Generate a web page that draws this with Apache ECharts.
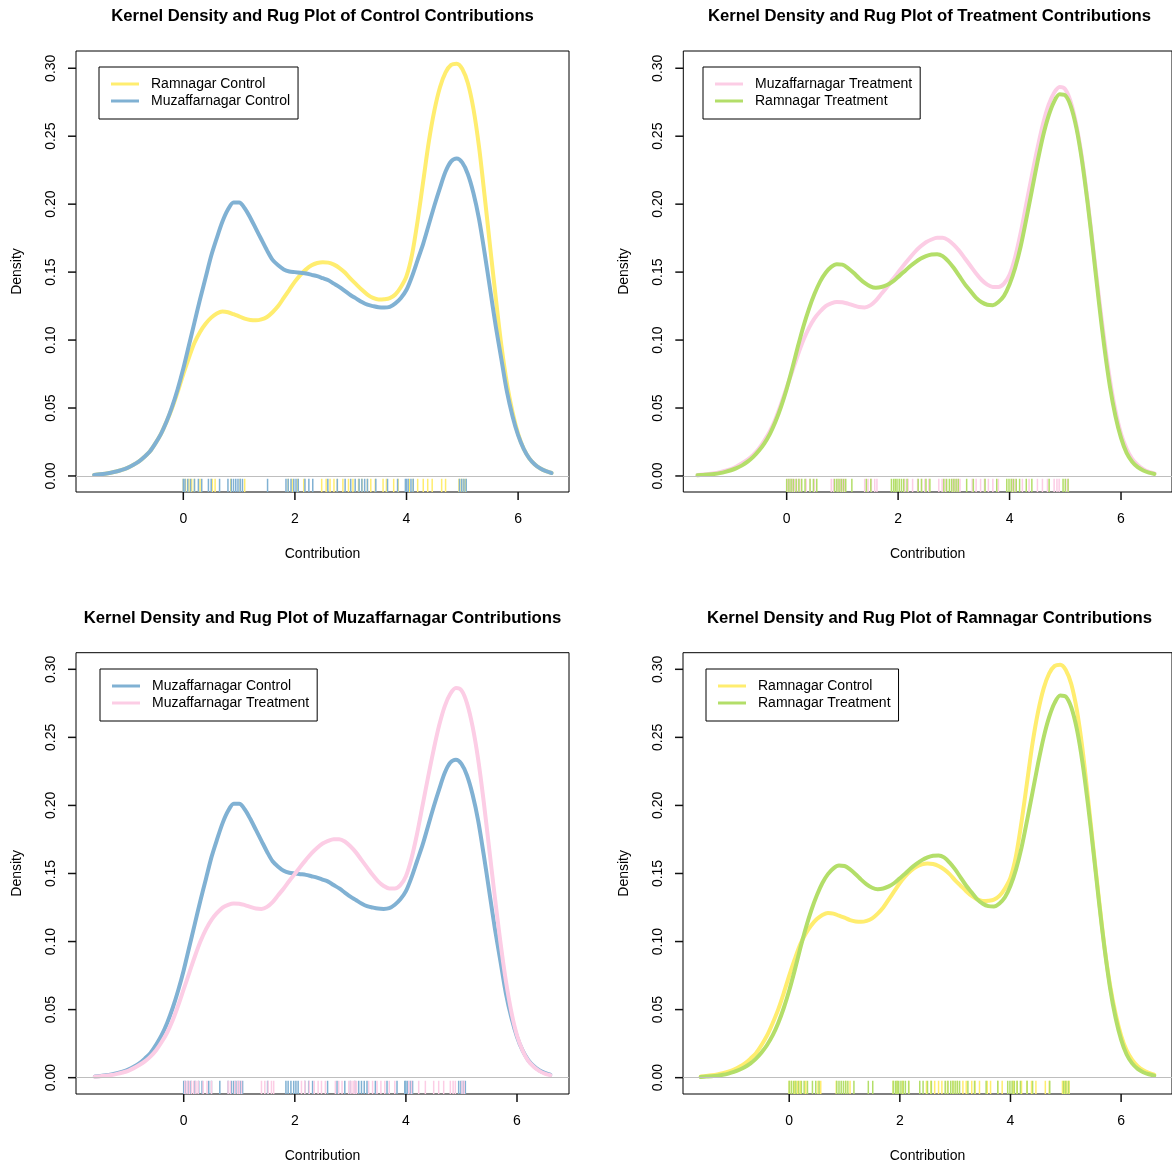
<!DOCTYPE html>
<html><head><meta charset="utf-8">
<script src="https://cdn.jsdelivr.net/npm/echarts@6/dist/echarts.min.js"></script>
<style>html,body{margin:0;padding:0;background:#fff}#c{width:1172px;height:1165px}</style>
</head><body><div id="c"></div>
<script>
// x positions (Contribution) at which the density curves were read
const contribution = [-1.6,-1.5,-1.4,-1.3,-1.2,-1.1,-1.0,-0.9,-0.8,-0.7,-0.6,-0.5,-0.4,-0.3,-0.2,-0.1,
  0.0,0.1,0.2,0.3,0.4,0.5,0.6,0.7,0.8,0.9,1.0,1.1,1.2,1.3,1.4,1.5,1.6,1.7,1.8,1.9,
  2.0,2.1,2.2,2.3,2.4,2.5,2.6,2.7,2.8,2.9,3.0,3.1,3.2,3.3,3.4,3.5,3.6,3.7,3.8,3.9,
  4.0,4.1,4.2,4.3,4.4,4.5,4.6,4.7,4.8,4.9,5.0,5.1,5.2,5.3,5.4,5.5,5.6,5.7,5.8,5.9,
  6.0,6.1,6.2,6.3,6.4,6.5,6.6];

const muzControl = [0.0008,0.0012,0.0017,0.0024,0.0033,0.0045,0.006,0.008,0.0105,0.014,0.018,0.024,0.031,0.040,0.051,0.064,
  0.079,0.096,0.113,0.130,0.146,0.162,0.175,0.187,0.196,0.2012,
  0.2012,0.197,0.190,0.182,0.174,0.166,0.159,0.155,0.152,0.1505,
  0.150,0.1495,0.149,0.148,0.147,0.1455,0.144,0.1415,0.139,0.136,
  0.133,0.1305,0.128,0.126,0.125,0.1242,0.124,0.1245,0.127,0.131,
  0.137,0.147,0.159,0.171,0.185,0.199,0.212,0.224,0.2315,0.2336,
  0.2305,0.222,0.208,0.189,0.164,0.137,0.110,0.086,0.062,0.044,
  0.030,0.020,0.013,0.0085,0.0055,0.0035,0.0022];

const ramControl = [0.0008,0.0012,0.0017,0.0024,0.0033,0.0045,0.006,0.008,0.0105,0.014,0.018,0.024,0.031,0.040,0.050,0.062,
  0.075,0.087,0.098,0.106,0.112,0.1165,0.1195,0.121,0.1205,0.119,
  0.1175,0.1158,0.1148,0.1145,0.1152,0.117,0.1205,0.125,0.131,0.137,
  0.143,0.148,0.152,0.155,0.1567,0.1573,0.157,0.1555,0.153,0.1495,
  0.145,0.141,0.137,0.1335,0.131,0.1298,0.130,0.1308,0.1335,0.139,
  0.147,0.163,0.188,0.217,0.246,0.269,0.286,0.297,0.3025,0.3034,
  0.2995,0.289,0.270,0.242,0.206,0.168,0.131,0.096,0.068,0.047,
  0.031,0.020,0.013,0.0085,0.0055,0.0035,0.0022];

const muzTreatment = [0.0007,0.001,0.0015,0.002,0.0028,0.0038,0.005,0.007,0.0093,0.012,0.0155,0.020,0.026,0.033,0.042,0.053,
  0.065,0.077,0.089,0.100,0.109,0.116,0.121,0.125,0.127,0.128,
  0.1278,0.1268,0.1255,0.1243,0.124,0.1255,0.129,0.134,0.139,0.1445,
  0.1497,0.155,0.160,0.1648,0.1688,0.172,0.174,0.1752,0.1752,0.1735,
  0.170,0.1655,0.160,0.1545,0.149,0.1442,0.1408,0.139,0.139,0.1415,
  0.148,0.161,0.179,0.200,0.221,0.241,0.259,0.273,0.282,0.2862,
  0.2845,0.275,0.258,0.234,0.203,0.168,0.133,0.100,0.071,0.048,
  0.031,0.020,0.0125,0.008,0.005,0.003,0.0019];

const ramTreatment = [0.0005,0.0008,0.0011,0.0015,0.0021,0.003,0.0042,0.0058,0.0078,0.0105,0.014,0.0185,0.024,0.031,0.040,0.051,
  0.064,0.079,0.095,0.110,0.123,0.134,0.143,0.1495,0.1538,0.1558,
  0.1555,0.153,0.1495,0.1455,0.142,0.1395,0.1385,0.139,0.1405,0.143,
  0.1465,0.150,0.1538,0.157,0.1598,0.1618,0.163,0.1632,0.1618,0.158,
  0.153,0.147,0.141,0.136,0.131,0.1278,0.126,0.1257,0.128,0.1325,
  0.141,0.153,0.169,0.189,0.210,0.231,0.250,0.265,0.2755,0.2808,
  0.280,0.272,0.256,0.232,0.201,0.166,0.129,0.095,0.066,0.044,
  0.028,0.017,0.0105,0.0065,0.004,0.0025,0.0015];

// rug observations
const ramControlRug = [0.0,0.04,0.1,0.15,0.2,0.3,0.52,0.57,0.85,1.02,1.1,1.88,1.95,2.05,2.16,2.48,2.56,2.63,2.7,2.76,2.86,2.96,3.04,3.14,3.2,3.3,3.36,3.44,3.58,3.64,3.77,3.85,4.05,4.12,4.2,4.3,4.38,4.46,4.63,4.7,4.94,4.98,5.02,5.06];
const muzControlRug = [0.0,0.03,0.08,0.13,0.2,0.27,0.33,0.45,0.5,0.65,0.8,0.86,0.9,0.94,0.98,1.02,1.06,1.51,1.84,1.88,1.93,1.98,2.02,2.06,2.18,2.25,2.32,2.59,2.76,2.9,3.0,3.08,3.15,3.2,3.25,3.3,3.45,3.66,3.84,3.98,4.0,4.03,4.08,4.12,4.95,4.99,5.03,5.07];
const muzTreatmentRug = [0.02,0.06,0.1,0.14,0.18,0.22,0.26,0.35,0.42,0.5,0.8,0.84,0.92,0.97,1.0,1.04,1.4,1.46,1.52,1.58,1.62,2.12,2.18,2.26,2.35,2.42,2.48,2.55,2.73,2.79,2.85,2.97,3.01,3.05,3.08,3.11,3.33,3.4,3.48,3.55,3.62,3.7,3.8,4.05,4.1,4.23,4.35,4.5,4.59,4.68,4.8,4.85,4.89,5.01,5.05];
const ramTreatmentRug = [0.0,0.04,0.08,0.12,0.17,0.22,0.27,0.33,0.42,0.48,0.54,0.86,0.9,0.94,0.98,1.02,1.06,1.17,1.43,1.51,1.88,1.92,1.95,1.98,2.02,2.06,2.1,2.16,2.36,2.42,2.5,2.57,2.82,2.87,2.92,2.96,3.0,3.04,3.08,3.23,3.35,3.56,3.77,3.95,3.99,4.03,4.07,4.12,4.18,4.3,4.4,4.71,4.96,5.0,5.05];

const xTicks = [0, 2, 4, 6];
const yTicks = [0, 0.05, 0.10, 0.15, 0.20, 0.25, 0.30];
const yTickLabels = ['0.00', '0.05', '0.10', '0.15', '0.20', '0.25', '0.30'];
const panelTitles = [
  'Kernel Density and Rug Plot of Control Contributions',
  'Kernel Density and Rug Plot of Treatment Contributions',
  'Kernel Density and Rug Plot of Muzaffarnagar Contributions',
  'Kernel Density and Rug Plot of Ramnagar Contributions'
];
const xAxisTitle = 'Contribution';
const yAxisTitle = 'Density';

const groups = {
  ramC: {name: 'Ramnagar Control', dens: ramControl, rug: ramControlRug, color: '#FFED6F'},
  muzC: {name: 'Muzaffarnagar Control', dens: muzControl, rug: muzControlRug, color: '#80B1D3'},
  muzT: {name: 'Muzaffarnagar Treatment', dens: muzTreatment, rug: muzTreatmentRug, color: '#FCCDE5'},
  ramT: {name: 'Ramnagar Treatment', dens: ramTreatment, rug: ramTreatmentRug, color: '#B3DE69'}
};

const FONT = "'Liberation Sans', Arial, Helvetica, sans-serif";
const TICK_LEN = 8;
const panels = [
  {grid: {left: 76, top: 51, width: 493, height: 441}, xr: [-1.923, 6.912], yr: [-0.0118, 0.3127], keys: ['ramC', 'muzC'], lg: [99, 67], title: [322.5, 8]},
  {grid: {left: 683.3, top: 51, right: -7.5, height: 441}, xr: [-1.855, 6.915], yr: [-0.0118, 0.3127], keys: ['muzT', 'ramT'], lg: [703, 67], title: [929.5, 8]},
  {grid: {left: 76, top: 652.7, width: 493, height: 441.3}, xr: [-1.939, 6.936], yr: [-0.012, 0.3122], keys: ['muzC', 'muzT'], lg: [100, 669], title: [322.5, 610]},
  {grid: {left: 683, top: 652.7, right: -3.6, height: 441.3}, xr: [-1.92, 6.92], yr: [-0.012, 0.3122], keys: ['ramC', 'ramT'], lg: [706, 669], title: [929.5, 610]}
];

const option = {
  animation: false,
  backgroundColor: '#fff',
  textStyle: {fontFamily: FONT},
  title: [], grid: [], xAxis: [], yAxis: [], legend: [], series: []
};

panels.forEach((p, gi) => {
  option.title.push({
    text: panelTitles[gi], left: p.title[0], top: p.title[1], textAlign: 'center', padding: 0,
    textStyle: {fontFamily: FONT, fontSize: 16.7, fontWeight: 'bold', color: '#000'}
  });
  option.grid.push(Object.assign({show: true, borderColor: '#000', borderWidth: 1, backgroundColor: 'transparent', containLabel: false}, p.grid));
  option.xAxis.push({
    type: 'value', gridIndex: gi, min: p.xr[0], max: p.xr[1], position: 'bottom',
    name: xAxisTitle, nameLocation: 'middle', nameGap: 55,
    nameTextStyle: {fontFamily: FONT, fontSize: 14, color: '#000'},
    axisLine: {show: false, onZero: false},
    axisTick: {show: false},
    axisLabel: {show: true, customValues: xTicks, margin: 20, fontSize: 14, color: '#000', fontFamily: FONT},
    splitLine: {show: false}
  });
  option.yAxis.push({
    type: 'value', gridIndex: gi, min: p.yr[0], max: p.yr[1], position: 'left',
    name: yAxisTitle, nameLocation: 'middle', nameGap: 52, nameRotate: 90,
    nameTextStyle: {fontFamily: FONT, fontSize: 14, color: '#000'},
    axisLine: {show: false, onZero: false},
    axisTick: {show: false},
    axisLabel: {show: true, customValues: yTicks, rotate: 90, margin: 18, fontSize: 14, color: '#000', fontFamily: FONT,
      formatter: v => { const i = yTicks.findIndex(t => Math.abs(t - v) < 1e-9); return i >= 0 ? yTickLabels[i] : v.toFixed(2); }},
    splitLine: {show: false}
  });
  option.legend.push({
    orient: 'vertical', left: p.lg[0], top: p.lg[1], icon: 'rect', itemWidth: 28, itemHeight: 3, itemGap: 3,
    padding: [10, 8, 11, 12], borderColor: '#000', borderWidth: 1, borderRadius: 0, backgroundColor: '#fff',
    selectedMode: false,
    textStyle: {fontFamily: FONT, fontSize: 14, color: '#000', lineHeight: 14, padding: [0, 0, 0, 7]},
    data: p.keys.map(k => groups[k].name)
  });
  p.keys.forEach((k, si) => {
    const g = groups[k];
    const s = {
      type: 'line', name: g.name, xAxisIndex: gi, yAxisIndex: gi,
      data: contribution.map((x, i) => [x, g.dens[i]]),
      smooth: 0.3, showSymbol: false, symbol: 'none', silent: true,
      color: g.color,
      lineStyle: {color: g.color, width: 4, cap: 'round', join: 'round'},
      z: 3 + si
    };
    if (si === 0) {
      s.markLine = {silent: true, symbol: 'none', label: {show: false},
        lineStyle: {color: '#bebebe', width: 1, type: 'solid'}, data: [{yAxis: 0}]};
    }
    option.series.push(s);
  });
  p.keys.forEach((k, si) => {
    const g = groups[k];
    option.series.push({
      type: 'custom', xAxisIndex: gi, yAxisIndex: gi, silent: true, z: 2 + si,
      data: g.rug.map(v => [v, 0]), encode: {x: 0, y: 1},
      renderItem: (params, api) => {
        const px = api.coord([api.value(0), 0])[0];
        const cs = params.coordSys;
        const yb = cs.y + cs.height;
        const len = cs.height * 0.03;
        return {type: 'line', shape: {x1: px, y1: yb, x2: px, y2: yb - len}, style: {stroke: g.color, lineWidth: 1.5}};
      }
    });
  });
  // R-style outward axis tick marks, placed through the axis scales (clip off so they sit outside the box)
  option.series.push({
    type: 'custom', xAxisIndex: gi, yAxisIndex: gi, silent: true, clip: false, z: 10,
    data: xTicks.map(t => [t, 0]).concat(yTicks.map(t => [0, t])),
    encode: {x: 0, y: 1},
    renderItem: (params, api) => {
      const cs = params.coordSys;
      if (params.dataIndex < xTicks.length) {
        const t = xTicks[params.dataIndex];
        const x = api.coord([t, p.yr[0]])[0];
        const y = cs.y + cs.height;
        return {type: 'line', shape: {x1: x, y1: y, x2: x, y2: y + TICK_LEN}, style: {stroke: '#111', lineWidth: 1.5}};
      }
      const t = yTicks[params.dataIndex - xTicks.length];
      const y = api.coord([p.xr[0], t])[1];
      const x = cs.x;
      return {type: 'line', shape: {x1: x - TICK_LEN, y1: y, x2: x, y2: y}, style: {stroke: '#111', lineWidth: 1.5}};
    }
  });
});

const chart = echarts.init(document.getElementById('c'), null, {renderer: 'canvas'});
chart.setOption(option);
</script>
</body></html>
